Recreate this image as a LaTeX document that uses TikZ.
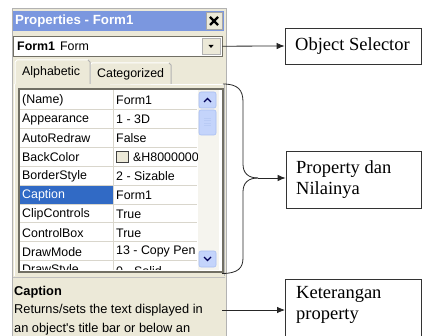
\documentclass[tikz,border=0pt]{standalone}
\usepackage{fontspec}
\setmainfont{Liberation Serif}
\newfontfamily\ui{Liberation Sans}
\usetikzlibrary{arrows.meta}
\definecolor{winbg}{HTML}{ECE9D8}
\definecolor{titlebl}{HTML}{7B97DF}
\definecolor{selbl}{HTML}{316AC5}
\definecolor{sbtn}{HTML}{C4D4FB}
\definecolor{sbedge}{HTML}{A8BEF2}
\definecolor{sbtrack}{HTML}{F5F4EE}
\definecolor{gridln}{HTML}{D9D6CC}
\definecolor{frame}{HTML}{716F64}
\begin{document}
\begin{tikzpicture}[x=1pt,y=-1pt,
  uitext/.style={font=\ui\fontsize{12.4}{14}\selectfont, inner sep=0pt, anchor=west},
  desctext/.style={font=\ui\fontsize{12.8}{14}\selectfont, inner sep=0pt, anchor=west},
  callout/.style={draw=black!80, line width=0.8pt, fill=white, inner sep=0pt},
  callouttext/.style={font=\fontsize{18.5}{21}\selectfont, align=left, inner sep=0pt, anchor=west},
  arr/.style={draw=black!85, line width=0.8pt, -{Latex[length=8pt,width=6.5pt]}},
  bracepath/.style={draw=black!85, line width=0.8pt},
  gline/.style={draw=gridln, line width=0.8pt},
  sbbutton/.style={draw=sbedge, fill=sbtn, rounded corners=2pt, line width=0.6pt, minimum width=17pt, inner sep=0pt}]
\useasboundingbox (0,0) rectangle (422,336);
\fill[white] (0,0) rectangle (422,336);
% window
\node[draw=gray!60, fill=winbg, anchor=north west, minimum width=214pt, minimum height=332pt, inner sep=0pt] (win) at (12,8) {};
% title bar
\node[fill=titlebl, anchor=north west, minimum width=211pt, minimum height=20pt, inner sep=0pt] (titlebar) at (13,11) {};
\node[font=\ui\bfseries\fontsize{13.3}{15}\selectfont, text=white, anchor=west, inner sep=0pt] (title) at (15,21) {Properties - Form1};
\node[draw=gray!70, fill=winbg, minimum width=16pt, minimum height=17pt, inner sep=0pt] (close) at (214,21) {};
\draw[line width=2.2pt] (210,17) -- (218,25) (218,17) -- (210,25);
% object combo
\node[draw=frame, fill=white, anchor=north west, minimum width=209pt, minimum height=20pt, inner sep=0pt] (combo) at (13,36) {};
\node[uitext] (cbtext) at (17,46.5) {\textbf{Form1}\hspace{5pt}Form};
\node[draw=gray!60, fill=winbg, minimum width=18pt, minimum height=16pt, inner sep=0pt] (ddbtn) at (211,46) {};
\fill (208.5,45) -- (213.5,45) -- (211,48) -- cycle;
% tab page
\draw[white, line width=1pt] (14,276) -- (14,84.5) -- (224,84.5);
\draw[gray!55, line width=1pt] (224,84.5) -- (224,276);
% tabs
\path[fill=winbg] (90,85) -- (90,65) -- (92,63) -- (169,63) -- (171,65) -- (171,84);
\draw[white, line width=1pt] (90,84) -- (90,65) -- (92,63) -- (169,63);
\draw[gray!60, line width=1pt] (169,63) -- (171,65) -- (171,84);
\node[uitext] (tabcat) at (97,74.5) {Categorized};
\path[fill=winbg] (15,86) -- (15,62) -- (17,60) -- (88,60) -- (90,62) -- (90,86);
\draw[white, line width=1pt] (15,84.5) -- (15,62) -- (17,60) -- (88,60);
\draw[gray!60, line width=1pt] (88,60) -- (90,62) -- (90,84);
\node[uitext] (tabalpha) at (22,72.5) {Alphabetic};
% grid
\node[draw=frame, line width=1.6pt, fill=white, anchor=north west, minimum width=204pt, minimum height=183pt, inner sep=0pt] (grid) at (18,88) {};
\begin{scope}
\clip (20,90) rectangle (219,269.2);
\fill[selbl] (20,185.05) rectangle (113,203.95);
\foreach \i in {0,...,8} {
  \draw[gline] (20,109.45+18.9*\i) -- (197,109.45+18.9*\i);
}
\draw[gline] (113,90) -- (113,272);
\foreach \n/\v [count=\i from 0] in {(Name)/Form1, Appearance/1 - 3D, AutoRedraw/False, BackColor/{}, BorderStyle/2 - Sizable, Caption/Form1, ClipControls/True, ControlBox/True, DrawMode/13 - Copy Pen, DrawStyle/0 - Solid} {
  \node[uitext] (n\i) at (22,100.5+18.9*\i) {\n};
  \node[uitext] (v\i) at (116,100.5+18.9*\i) {\v};
}
\node[uitext, text=white, fill=selbl] (capsel) at (22,195) {Caption};
\node[draw=black!75, fill=winbg, minimum width=12pt, minimum height=11pt, inner sep=0pt, line width=0.7pt] (swatch) at (122,157) {};
\node[uitext] (bcval) at (133,157.2) {\&H8000000F};
% scrollbar
\fill[sbtrack] (197.5,90) rectangle (219,272);
\node[sbbutton, minimum height=16pt] (sbup) at (207.5,100) {};
\draw[line width=1.4pt, draw=blue!35!black] (204,102) -- (207.5,98.5) -- (211,102);
\node[sbbutton, minimum height=25pt] (sbthumb) at (207.5,122.5) {};
\foreach \k in {0,...,3} { \draw[sbedge!80!white, line width=0.6pt] (204,118+2.6*\k) -- (211,118+2.6*\k); }
\node[sbbutton, minimum height=16pt] (sbdown) at (207.5,259) {};
\draw[line width=1.4pt, draw=blue!35!black] (204,257) -- (207.5,260.5) -- (211,257);
\end{scope}
% description
\draw[gray!50, line width=0.8pt] (13,277.5) -- (225,277.5);
\node[desctext, font=\ui\bfseries\fontsize{12.8}{14}\selectfont] (desch) at (14,292) {Caption};
\node[desctext] (desc1) at (14,310.5) {Returns/sets the text displayed in};
\node[desctext] (desc2) at (14,329.5) {an object's title bar or below an};
% callouts
\node[callout, minimum width=136pt, minimum height=36pt] (os) at (353,46) {};
\node[callouttext] (ostext) at (295,46) {Object Selector};
\node[callout, minimum width=135pt, minimum height=57pt] (pd) at (353.5,179.5) {};
\node[callouttext] (pdtext) at (296,180) {Property dan\\Nilainya};
\node[callout, anchor=north west, minimum width=136pt, minimum height=70pt] (kt) at (285,279) {};
\node[callouttext, anchor=north west] (kttext) at (296,286) {Keterangan\\property};
% connectors
\draw[arr] (combo.east) -- (os.west);
\coordinate (btop) at (223,84);
\coordinate (btip) at (258,178);
\coordinate (bbot) at (222,273.5);
\draw[bracepath] (btop) .. controls (238,84) and (243,90) .. (243,102) -- (243,164) .. controls (243,173) and (248,178) .. (btip);
\draw[bracepath] (btip) .. controls (248,178) and (243,183) .. (243,192) -- (243,258) .. controls (243,268) and (238,273.5) .. (bbot);
\draw[arr] (btip) -- (btip -| pd.west);
\coordinate (kstart) at (222,310);
\draw[arr] (kstart) -- (kstart -| kt.west);
\end{tikzpicture}
\end{document}
